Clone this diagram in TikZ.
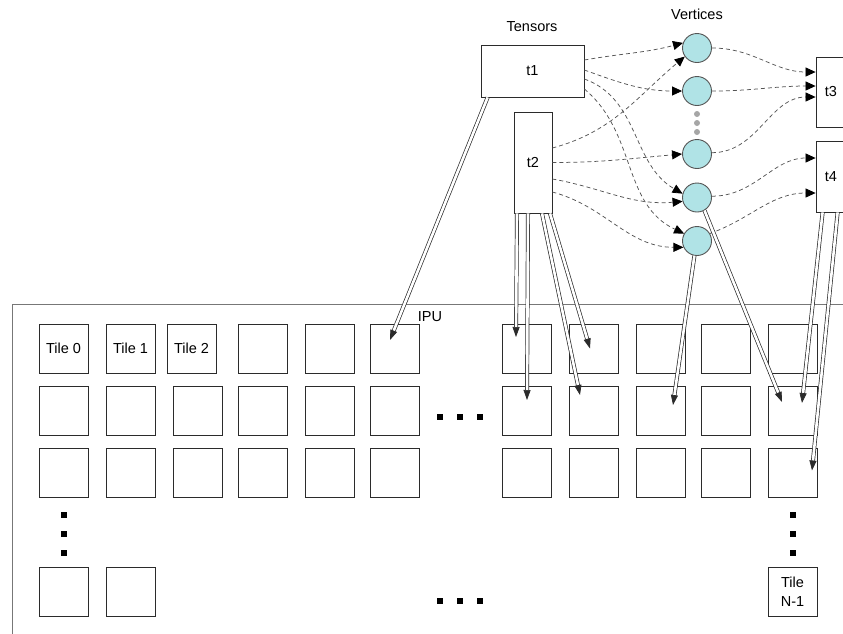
\documentclass[tikz,border=0pt]{standalone}
\usepackage{fontspec}
\setmainfont{Liberation Sans}
\usepackage{tikz}
\usetikzlibrary{positioning,arrows.meta,calc}
\definecolor{ink}{HTML}{2B2B2B}
\definecolor{frameGray}{HTML}{777777}
\definecolor{dashGray}{HTML}{555555}
\definecolor{vertexFill}{HTML}{B0E3E6}
\definecolor{gapGray}{HTML}{A6A6A6}
\tikzset{
  tile/.style={rectangle, draw=ink, line width=0.8pt, fill=white, minimum width=49pt,
               minimum height=49pt, inner sep=0pt, align=center, font=\fontsize{14.5}{19}\selectfont},
  tensor/.style={rectangle, draw=ink, line width=0.8pt, fill=white, inner sep=0pt,
                 font=\fontsize{14.5}{17}\selectfont},
  vertex/.style={circle, draw=ink!80, line width=0.9pt, fill=vertexFill, minimum size=29pt, inner sep=0pt},
  heading/.style={inner sep=0pt, font=\fontsize{14.5}{17}\selectfont},
  dotmark/.style={rectangle, fill=black, minimum size=6.5pt, inner sep=0pt},
  gapdot/.style={circle, fill=gapGray, minimum size=6pt, inner sep=0pt},
  dep/.style={draw=dashGray, line width=0.75pt, dash pattern=on 4pt off 3pt,
              -{Triangle[length=10pt,width=9pt,black]}},
  place/.style={draw=ink, line width=0.7pt, double=white, double distance=2.6pt,
                -{Triangle[length=10pt,width=7pt]}}
}

\begin{document}
\begin{tikzpicture}[x=1pt,y=-1pt]
  \useasboundingbox (0,0) rectangle (843,633);
  % IPU frame
  \draw[frameGray,line width=1pt] (850,304) -- (12,304) -- (12,640);
  \node[heading] (ipu) at (430,317) {IPU};

  % tiles
  \node[tile] (r0c0) at (63.5,348.5) {Tile 0};
  \node[tile] (r0c1) at (130.5,348.5) {Tile 1};
  \node[tile] (r0c2) at (191.5,348.5) {Tile 2};
  \foreach \c/\x in {3/262.5,4/329.5,5/394.5,6/526.5,7/593.5,8/660.5,9/725.5,10/792.5}
    \node[tile] (r0c\c) at (\x,348.5) {};
  \foreach \c/\x in {0/63.5,1/130.5,2/197.5,3/262.5,4/329.5,5/394.5,6/526.5,7/593.5,8/660.5,9/725.5,10/792.5} {
    \node[tile] (r1c\c) at (\x,411) {};
    \node[tile] (r2c\c) at (\x,473) {};
  }
  \node[tile] (r3c0) at (63.5,592) {};
  \node[tile] (r3c1) at (130.5,592) {};
  \node[tile] (lastTile) at (792.5,592) {Tile\\N-1};

  \foreach \x in {440,460,480} {
    \node[dotmark] (rowdot\x) at (\x,417) {};
    \node[dotmark] (bottomdot\x) at (\x,601) {};
  }
  \foreach \y in {515,534,553} {
    \node[dotmark] (leftdot\y) at (64,\y) {};
    \node[dotmark] (rightdot\y) at (793,\y) {};
  }

  % tensors and vertices
  \node[heading] (tensorsLabel) at (532,27) {Tensors};
  \node[heading] (verticesLabel) at (697,14) {Vertices};
  \node[tensor, minimum width=103pt, minimum height=52pt] (t1) at (532.5,71) {t1};
  \node[tensor, minimum width=38pt, minimum height=101pt] (t2) at (533,162.5) {t2};
  \node[tensor, minimum width=30pt, minimum height=70pt] (t3) at (831,92) {t3};
  \node[tensor, minimum width=30pt, minimum height=71pt] (t4) at (831,176.5) {t4};

  \foreach \n/\y in {1/48,2/91,3/154,4/197.5,5/241}
    \node[vertex] (v\n) at (697,\y) {};
  \foreach \y in {114,123,132}
    \node[gapdot] (gap\y) at (697,\y) {};

  \draw[dep] ($(t1.east)+(0,-11)$) to[out=10,in=195] (v1.160);
  \draw[dep] ($(t1.east)+(0,-1)$) to[out=-20,in=180] (v2.west);
  \draw[dep] ($(t1.east)+(0,8)$) to[out=-20,in=150] (v4.165);
  \draw[dep] ($(t1.east)+(0,18)$) to[out=-40,in=155] (v5.150);
  \draw[dep] ($(t2.east)+(0,-14.5)$) to[out=15,in=220] (v1.215);
  \draw[dep] (t2.east) to[out=0,in=185] (v3.west);
  \draw[dep] ($(t2.east)+(0,16.5)$) to[out=-10,in=185] (v4.195);
  \draw[dep] ($(t2.east)+(0,29.5)$) to[out=-15,in=180] (v5.205);

  \draw[dep] (v1.east) to[out=0,in=180] ($(t3.west)+(0,-20)$);
  \draw[dep] (v2.east) to[out=0,in=180] ($(t3.west)+(0,-6)$);
  \draw[dep] (v3.5) to[out=0,in=180] ($(t3.west)+(0,5)$);
  \draw[dep] (v4.5) to[out=0,in=180] ($(t4.west)+(0,-18.5)$);
  \draw[dep] (v5.30) to[out=20,in=180] ($(t4.west)+(0,16.5)$);

  % placement on tiles
  \draw[place] ($(t1.south west)+(7,0)$) -- ($(r0c5.center)+(-4.5,-8.5)$);
  \draw[place] ($(t2.south)+(-16,0)$) -- ($(r0c6.center)+(-10.5,-11.5)$);
  \draw[place] ($(t2.south)+(-5,0)$) -- ($(r1c6.center)+(0.5,-11)$);
  \draw[place] ($(t2.south)+(9,0)$) -- ($(r1c7.center)+(-13.5,-16)$);
  \draw[place] ($(t2.south)+(17,0)$) -- ($(r0c7.center)+(-3.5,0)$);
  \draw[place] (v5.-100) -- ($(r1c8.center)+(12.5,-6)$);
  \draw[place] (v4.-60) -- ($(r1c10.center)+(-10.5,-9)$);
  \draw[place] ($(t4.south west)+(7,0)$) -- ($(r1c10.center)+(9.5,-8)$);
  \draw[place] ($(t4.south west)+(22,0)$) -- ($(r2c10.center)+(19.5,-2.5)$);
\end{tikzpicture}
\end{document}
